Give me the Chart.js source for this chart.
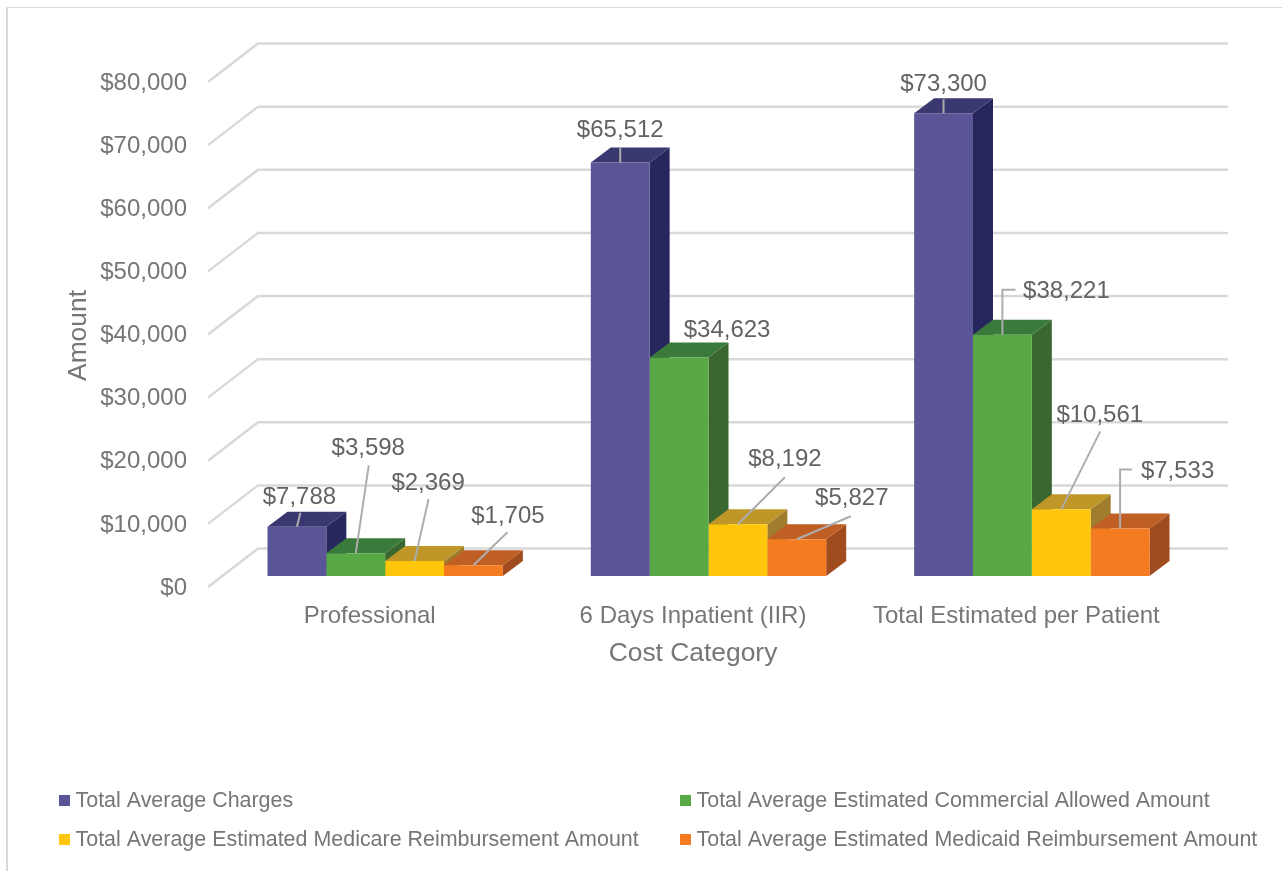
<!DOCTYPE html>
<html lang="en">
<head>
  <meta charset="UTF-8">
  <title>Cost Category Chart</title>
  <script src="https://cdn.jsdelivr.net/npm/chart.js"></script>
  <style>
    html, body { margin: 0; background: #fff; }
    canvas { display: block; }
  </style>
</head>
<body>
  <canvas id="costChart" width="1282" height="871"></canvas>

  <script>
    const categories = ['Professional', '6 Days Inpatient (IIR)', 'Total Estimated per Patient'];
    const seriesNames = [
      'Total Average Charges',
      'Total Average Estimated Commercial Allowed Amount',
      'Total Average Estimated Medicare Reimbursement Amount',
      'Total Average Estimated Medicaid Reimbursement Amount'
    ];
    const totalCharges = [7788, 65512, 73300];
    const commercialAllowed = [3598, 34623, 38221];
    const medicareReimbursement = [2369, 8192, 10561];
    const medicaidReimbursement = [1705, 5827, 7533];
    const seriesValues = [totalCharges, commercialAllowed, medicareReimbursement, medicaidReimbursement];
    const tickValues = [0, 10000, 20000, 30000, 40000, 50000, 60000, 70000, 80000];

    // front, top and side face colours per series
    const frontColors = ['#5A5596', '#58A846', '#FFC60B', '#F57B20'];
    const topColors = ['#3A3870', '#3A7A3A', '#BF9729', '#C05F24'];
    const sideColors = ['#27275E', '#3A662F', '#9F7D2C', '#A04C1F'];

    const money = (v) => '$' + v.toLocaleString('en-US');
    const fontName = '"Liberation Sans", Arial, sans-serif';

    // the bars stand part way into the floor, the grid is at the back of it
    const barShift = { x: 15.5, y: -12 };
    const gridShift = -1;
    const barDepth = { x: 20, y: -15 };
    const floorDepth = { x: 50, y: -38.5 };

    // data label centres, relative to the top centre of the bar front [series][category]
    const labelOffsets = [
      [[2.5, -29], [0, -32], [0, -29]],
      [[12.5, -105], [48, -27], [64, -43]],
      [[13.5, -78], [47, -65], [38.5, -94]],
      [[34.5, -49], [55, -41], [57.5, -57]]
    ];
    const leaderPaths = [
      [[[3.5, -14]], [[0, -15]], [[0, -14]]],
      [[[13, -88]], null, [[0, -45], [13, -45]]],
      [[[14, -62]], [[47, -47]], [[39, -78]]],
      [[[34, -33]], [[54, -23]], [[0, -59], [12, -59]]]
    ];

    const framePlugin = {
      id: 'frame',
      beforeDraw(chart) {
        const ctx = chart.ctx;
        ctx.save();
        ctx.fillStyle = '#fff';
        ctx.fillRect(0, 0, chart.width, chart.height);
        ctx.strokeStyle = '#D9D9D9';
        ctx.lineWidth = 2;
        ctx.beginPath();
        ctx.moveTo(7, 871);
        ctx.lineTo(7, 7.5);
        ctx.stroke();
        ctx.lineWidth = 1;
        ctx.beginPath();
        ctx.moveTo(7, 7.5);
        ctx.lineTo(1282, 7.5);
        ctx.stroke();
        ctx.restore();
      }
    };

    const gridPlugin = {
      id: 'grid3d',
      beforeDatasetsDraw(chart) {
        const ctx = chart.ctx;
        const area = chart.chartArea;
        const y = chart.scales.y;
        ctx.save();
        ctx.strokeStyle = '#D9D9D9';
        ctx.lineWidth = 2.5;
        y.ticks.forEach((tick) => {
          const py = y.getPixelForValue(tick.value) + gridShift;
          ctx.beginPath();
          ctx.moveTo(area.left, py);
          ctx.lineTo(area.left + floorDepth.x, py + floorDepth.y);
          ctx.lineTo(area.right + floorDepth.x, py + floorDepth.y);
          ctx.stroke();
        });
        ctx.restore();
      }
    };

    // shifts the bars and adds their top and side faces
    const barsPlugin = {
      id: 'bars3d',
      beforeDatasetsDraw(chart) {
        const ctx = chart.ctx;
        ctx.save();
        ctx.translate(barShift.x, barShift.y);
        chart.data.datasets.forEach((ds, i) => {
          chart.getDatasetMeta(i).data.forEach((bar) => {
            const left = bar.x - bar.width / 2;
            const right = bar.x + bar.width / 2;
            ctx.fillStyle = sideColors[i];
            ctx.beginPath();
            ctx.moveTo(right, bar.y);
            ctx.lineTo(right + barDepth.x, bar.y + barDepth.y);
            ctx.lineTo(right + barDepth.x, bar.base + barDepth.y);
            ctx.lineTo(right, bar.base);
            ctx.closePath();
            ctx.fill();
            ctx.fillStyle = topColors[i];
            ctx.beginPath();
            ctx.moveTo(left, bar.y);
            ctx.lineTo(left + barDepth.x, bar.y + barDepth.y);
            ctx.lineTo(right + barDepth.x, bar.y + barDepth.y);
            ctx.lineTo(right, bar.y);
            ctx.closePath();
            ctx.fill();
          });
        });
      },
      afterDatasetsDraw(chart) {
        const ctx = chart.ctx;
        chart.data.datasets.forEach((ds, i) => {
          chart.getDatasetMeta(i).data.forEach((bar, j) => {
            const path = leaderPaths[i][j];
            if (path) {
              ctx.strokeStyle = '#ADADAD';
              ctx.lineWidth = 2;
              ctx.beginPath();
              ctx.moveTo(bar.x, bar.y);
              path.forEach((p) => ctx.lineTo(bar.x + p[0], bar.y + p[1]));
              ctx.stroke();
            }
            const off = labelOffsets[i][j];
            ctx.fillStyle = '#636363';
            ctx.font = '24px ' + fontName;
            ctx.textAlign = 'center';
            ctx.textBaseline = 'middle';
            ctx.fillText(money(ds.data[j]), bar.x + off[0], bar.y + off[1]);
          });
        });
        ctx.restore();
      }
    };

    // two column legend, the built in one can only centre its rows
    const legendPlugin = {
      id: 'legendColumns',
      afterDraw(chart) {
        const ctx = chart.ctx;
        const columns = [59, 680];
        const rows = [800.5, 839.5];
        ctx.save();
        ctx.font = '21.45px ' + fontName;
        ctx.textAlign = 'left';
        ctx.textBaseline = 'middle';
        chart.data.datasets.forEach((ds, i) => {
          const x = columns[i % 2];
          const y = rows[Math.floor(i / 2)];
          ctx.fillStyle = frontColors[i];
          ctx.fillRect(x, y - 5.5, 11, 11);
          ctx.fillStyle = '#767676';
          ctx.fillText(ds.label, x + 16.5, y + 1);
        });
        ctx.restore();
      }
    };

    new Chart(document.getElementById('costChart').getContext('2d'), {
      type: 'bar',
      data: {
        labels: categories,
        datasets: seriesNames.map((name, i) => ({
          label: name,
          data: seriesValues[i],
          backgroundColor: frontColors[i],
          borderWidth: 0
        }))
      },
      options: {
        responsive: false,
        animation: false,
        clip: false,
        barPercentage: 1,
        categoryPercentage: 0.728,
        layout: { padding: { left: 63, right: 104, top: 83, bottom: 201 } },
        plugins: { legend: { display: false }, tooltip: { enabled: false } },
        scales: {
          x: {
            afterFit(scale) {
              scale.height = 82;
            },
            grid: { display: false, drawTicks: false },
            border: { display: false },
            ticks: { color: '#767676', padding: 14, maxRotation: 0, font: { family: fontName, size: 24 } },
            title: {
              display: true,
              text: 'Cost Category',
              color: '#767676',
              padding: 0,
              font: { family: fontName, size: 26.4 }
            }
          },
          y: {
            min: 0,
            max: 80000,
            afterFit(scale) {
              scale.width = 145;
            },
            afterBuildTicks(scale) {
              scale.ticks = tickValues.map((value) => ({ value }));
            },
            grid: { display: false, drawTicks: false },
            border: { display: false },
            ticks: { color: '#767676', padding: 21, font: { family: fontName, size: 24 }, callback: money },
            title: {
              display: true,
              text: 'Amount',
              color: '#767676',
              padding: 0,
              font: { family: fontName, size: 26.4 }
            }
          }
        }
      },
      plugins: [framePlugin, gridPlugin, barsPlugin, legendPlugin]
    });
  </script>
</body>
</html>
